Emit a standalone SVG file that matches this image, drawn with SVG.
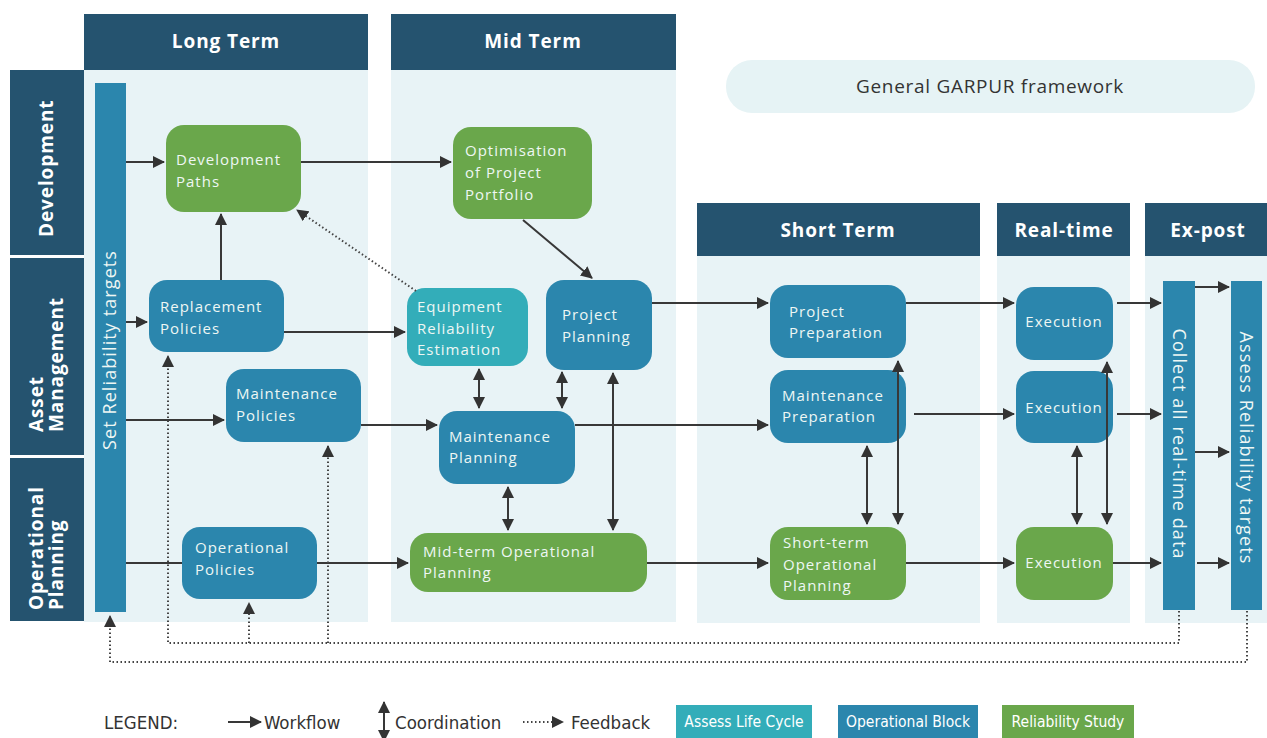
<svg xmlns="http://www.w3.org/2000/svg" width="1267" height="738" viewBox="0 0 1267 738">
<defs>
<style>
.hdr{fill:#25536f}
.bg{fill:#e8f3f6}
.hdrt{font-family:"Open Sans","Noto Sans",sans-serif;font-weight:700;font-size:19px;fill:#ffffff;text-anchor:middle;letter-spacing:0.9px}
.rowt{font-family:"Open Sans","Noto Sans",sans-serif;font-weight:700;font-size:19px;fill:#ffffff;letter-spacing:0.9px}
.blue{fill:#2b86ad}
.green{fill:#6aa74b}
.teal{fill:#33adb9}
.nt{font-family:"Open Sans","Noto Sans",sans-serif;font-size:15px;fill:#eef7f4;letter-spacing:1px}
.bart{font-family:"Open Sans","Noto Sans",sans-serif;font-size:18px;fill:#eef7f4;text-anchor:middle;letter-spacing:1.1px}
.wf{fill:none;stroke:#383838;stroke-width:2;marker-end:url(#ah)}
.plain{fill:none;stroke:#383838;stroke-width:2}
.co{fill:none;stroke:#383838;stroke-width:2;marker-start:url(#ah);marker-end:url(#ah)}
.fba{fill:none;stroke:#444;stroke-width:2;stroke-dasharray:1.5 2.5;marker-end:url(#ah)}
.lg{font-family:"DejaVu Sans Condensed","Liberation Sans",sans-serif;font-stretch:condensed;font-size:18.5px;fill:#333}
.lgb{font-family:"DejaVu Sans Condensed","Liberation Sans",sans-serif;font-stretch:condensed;font-size:15.5px;fill:#ffffff;text-anchor:middle}
</style>
<marker id="ah" viewBox="0 0 12 12" refX="11" refY="6" markerWidth="12" markerHeight="12" markerUnits="userSpaceOnUse" orient="auto-start-reverse">
<path d="M0,0 L12,6 L0,12 z" fill="#333"/>
</marker>
</defs>
<rect width="1267" height="738" fill="#ffffff"/>

<g id="columns">
<rect class="bg" x="84" y="70" width="284" height="552"/>
<rect class="bg" x="391" y="70" width="285" height="552"/>
<rect class="bg" x="697" y="256" width="283" height="367"/>
<rect class="bg" x="997" y="256" width="133" height="367"/>
<rect class="bg" x="1145" y="256" width="122" height="367"/>
<rect class="hdr" x="84" y="14" width="284" height="56"/>
<text class="hdrt" x="226" y="48">Long Term</text>
<rect class="hdr" x="391" y="14" width="285" height="56"/>
<text class="hdrt" x="533" y="48">Mid Term</text>
<rect class="hdr" x="697" y="203" width="283" height="53"/>
<text class="hdrt" x="838" y="237">Short Term</text>
<rect class="hdr" x="997" y="203" width="133" height="53"/>
<text class="hdrt" x="1064" y="237">Real-time</text>
<rect class="hdr" x="1145" y="203" width="122" height="53"/>
<text class="hdrt" x="1208" y="237">Ex-post</text>
</g>

<g id="rows">
<rect class="hdr" x="10" y="70" width="74" height="185"/>
<text class="rowt" transform="translate(53,237) rotate(-90)">Development</text>
<rect class="hdr" x="10" y="258" width="74" height="197"/>
<text class="rowt" transform="translate(43,432) rotate(-90)">Asset</text>
<text class="rowt" transform="translate(63,432) rotate(-90)">Management</text>
<rect class="hdr" x="10" y="458" width="74" height="163"/>
<text class="rowt" transform="translate(43,610) rotate(-90)">Operational</text>
<text class="rowt" transform="translate(63,610) rotate(-90)">Planning</text>
</g>

<g id="title">
<rect x="726" y="60" width="529" height="53" rx="26" fill="#e6f3f5"/>
<text x="990" y="93" font-family="'Open Sans','Noto Sans',sans-serif" font-size="19" fill="#333" text-anchor="middle" letter-spacing="0.7">General GARPUR framework</text>
</g>

<g id="set-reliability-targets">
<rect class="blue" x="95" y="83" width="31" height="529"/>
<text class="bart" transform="translate(116,350) rotate(-90)">Set Reliability targets</text>
</g>

<g id="development-paths">
<rect class="green" x="166" y="125" width="135" height="87" rx="18"/>
<text class="nt" x="176" y="165">Development</text>
<text class="nt" x="176" y="187">Paths</text>
</g>
<g id="replacement-policies">
<rect class="blue" x="149" y="280" width="135" height="72" rx="18"/>
<text class="nt" x="160" y="312">Replacement</text>
<text class="nt" x="160" y="334">Policies</text>
</g>
<g id="maintenance-policies">
<rect class="blue" x="226" y="369" width="135" height="73" rx="18"/>
<text class="nt" x="236" y="399">Maintenance</text>
<text class="nt" x="236" y="421">Policies</text>
</g>
<g id="operational-policies">
<rect class="blue" x="182" y="527" width="135" height="72" rx="18"/>
<text class="nt" x="195" y="553">Operational</text>
<text class="nt" x="195" y="575">Policies</text>
</g>
<g id="optimisation-project-portfolio">
<rect class="green" x="453" y="127" width="139" height="92" rx="18"/>
<text class="nt" x="465" y="156">Optimisation</text>
<text class="nt" x="465" y="178">of Project</text>
<text class="nt" x="465" y="200">Portfolio</text>
</g>
<g id="equipment-reliability-estimation">
<rect class="teal" x="407" y="288" width="121" height="78" rx="18"/>
<text class="nt" x="417" y="312">Equipment</text>
<text class="nt" x="417" y="334">Reliability</text>
<text class="nt" x="417" y="355">Estimation</text>
</g>
<g id="project-planning">
<rect class="blue" x="546" y="280" width="106" height="90" rx="18"/>
<text class="nt" x="562" y="320">Project</text>
<text class="nt" x="562" y="342">Planning</text>
</g>
<g id="maintenance-planning">
<rect class="blue" x="439" y="411" width="136" height="73" rx="18"/>
<text class="nt" x="449" y="442">Maintenance</text>
<text class="nt" x="449" y="463">Planning</text>
</g>
<g id="mid-term-operational-planning">
<rect class="green" x="410" y="533" width="237" height="59" rx="18"/>
<text class="nt" x="423" y="557">Mid-term Operational</text>
<text class="nt" x="423" y="578">Planning</text>
</g>
<g id="project-preparation">
<rect class="blue" x="770" y="285" width="136" height="73" rx="18"/>
<text class="nt" x="789" y="317">Project</text>
<text class="nt" x="789" y="338">Preparation</text>
</g>
<g id="maintenance-preparation">
<rect class="blue" x="770" y="370" width="136" height="73" rx="18"/>
<text class="nt" x="782" y="401">Maintenance</text>
<text class="nt" x="782" y="422">Preparation</text>
</g>
<g id="short-term-operational-planning">
<rect class="green" x="770" y="527" width="136" height="73" rx="18"/>
<text class="nt" x="783" y="548">Short-term</text>
<text class="nt" x="783" y="570">Operational</text>
<text class="nt" x="783" y="591">Planning</text>
</g>
<g id="execution-1">
<rect class="blue" x="1016" y="287" width="97" height="73" rx="18"/>
<text class="nt" x="1064" y="327" text-anchor="middle">Execution</text>
</g>
<g id="execution-2">
<rect class="blue" x="1016" y="371" width="97" height="72" rx="18"/>
<text class="nt" x="1064" y="413" text-anchor="middle">Execution</text>
</g>
<g id="execution-3">
<rect class="green" x="1016" y="527" width="97" height="73" rx="18"/>
<text class="nt" x="1064" y="568" text-anchor="middle">Execution</text>
</g>
<g id="collect-real-time-data">
<rect class="blue" x="1163" y="281" width="32" height="329"/>
<text class="bart" transform="translate(1173,444) rotate(90)">Collect all real-time data</text>
</g>
<g id="assess-reliability-targets">
<rect class="blue" x="1231" y="281" width="31" height="329"/>
<text class="bart" transform="translate(1240,448) rotate(90)">Assess Reliability targets</text>
</g>

<g id="connectors">
<path class="wf" d="M126,162 H164"/>
<path class="wf" d="M301,162 H451"/>
<path class="wf" d="M221,280 V214"/>
<path class="wf" d="M126,322 H147"/>
<path class="wf" d="M284,332 H405"/>
<path class="wf" d="M523,220 L592,278"/>
<path class="wf" d="M126,420 H224"/>
<path class="wf" d="M361,425 H437"/>
<path class="plain" d="M126,563 H182"/>
<path class="wf" d="M317,563 H408"/>
<path class="wf" d="M652,303 H768"/>
<path class="wf" d="M575,425 H768"/>
<path class="wf" d="M647,563 H768"/>
<path class="wf" d="M906,303 H1014"/>
<path class="wf" d="M914,414 H1014"/>
<path class="wf" d="M906,563 H1014"/>
<path class="wf" d="M1117,303 H1161"/>
<path class="wf" d="M1117,414 H1161"/>
<path class="wf" d="M1113,563 H1161"/>
<path class="wf" d="M1195,287 H1229"/>
<path class="wf" d="M1195,452 H1229"/>
<path class="wf" d="M1197,563 H1229"/>

<path class="co" d="M479,369 V408"/>
<path class="co" d="M562,372 V408"/>
<path class="co" d="M508,487 V530"/>
<path class="co" d="M613,373 V530"/>
<path class="co" d="M867,446 V524"/>
<path class="co" d="M898,361 V524"/>
<path class="co" d="M1077,446 V524"/>
<path class="co" d="M1107,362 V524"/>

<path class="fba" d="M416,291 L297,210"/>
<path class="fba" d="M1179,611 V643 H168 V356"/>
<path class="fba" d="M249,643 V603"/>
<path class="fba" d="M328,643 V446"/>
<path class="fba" d="M1247,611 V662 H110 V616"/>
</g>

<g id="legend">
<text class="lg" x="104" y="729">LEGEND:</text>
<path class="wf" d="M228,722 H261"/>
<text class="lg" x="264" y="729">Workflow</text>
<path class="co" d="M384,702 V741"/>
<text class="lg" x="395" y="729">Coordination</text>
<path class="fba" d="M523,722 H563"/>
<text class="lg" x="571" y="729">Feedback</text>
<rect class="teal" x="676" y="705" width="136" height="33"/>
<text class="lgb" x="744" y="727">Assess Life Cycle</text>
<rect class="blue" x="838" y="705" width="140" height="33"/>
<text class="lgb" x="908" y="727">Operational Block</text>
<rect class="green" x="1002" y="705" width="132" height="33"/>
<text class="lgb" x="1068" y="727">Reliability Study</text>
</g>
</svg>
